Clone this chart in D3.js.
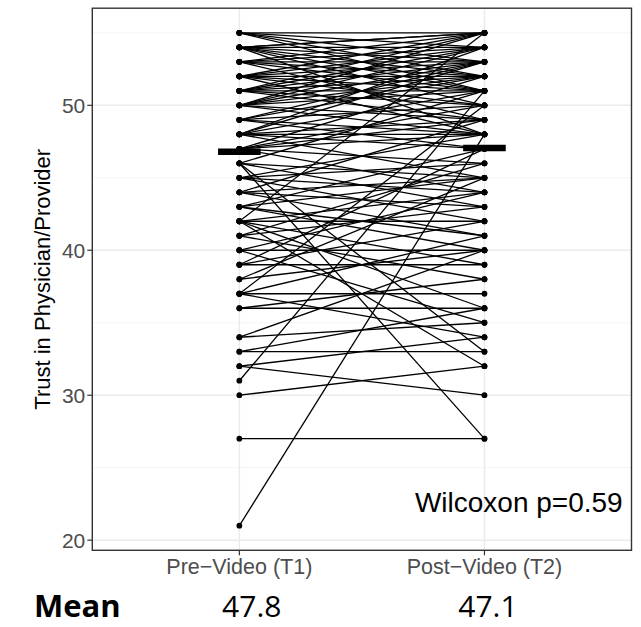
<!DOCTYPE html>
<html><head><meta charset="utf-8">
<script src="https://cdn.jsdelivr.net/npm/d3@7"></script>
<style>html,body{margin:0;padding:0;background:#fff;}svg{display:block;}</style>
</head><body>
<svg id="chart" width="641" height="627"></svg>
<script>
// ---- data ----
const categories = ["Pre\u2212Video (T1)", "Post\u2212Video (T2)"];
const preValues  = [55,55,55,54,54,54,54,54,54,53,53,53,53,52,52,52,52,52,51,51,51,51,51,50,50,50,50,49,49,49,48,48,48,48,48,47,47,47,47,46,46,46,46,46,45,45,45,45,44,44,44,44,43,43,43,43,42,42,42,42,42,42,41,41,41,40,40,40,39,39,39,38,38,37,37,37,37,36,36,34,34,33,33,32,32,31,30,27,21,
                    55,55,54,54,53,53,52,52,51,51,50,50,50,49,49,48,48,47,47];
const postValues = [55,54,52,55,54,53,51,50,55,55,52,54,49,55,53,51,50,48,54,53,51,52,49,55,51,48,52,53,50,47,54,49,47,48,45,50,52,46,44,51,45,43,27,33,48,46,44,42,49,45,41,43,47,45,40,41,55,44,42,39,36,32,46,43,38,44,40,35,47,42,39,45,40,50,41,37,34,38,36,40,35,33,36,34,30,51,32,27,48,
                    53,51,52,48,53,51,54,52,55,50,54,53,49,52,48,51,53,49,48];
const meanBarValues = [46.8, 47.05];
const meanLabels = ["47.8", "47.1"];
const yTicks = [20, 30, 40, 50];
const yMinorTicks = [25, 35, 45, 55];
const yDomain = [19.3, 56.7];
const statText = "Wilcoxon p=0.59";
const yTitle = "Trust in Physician/Provider";
const meanTitle = "Mean";

// ---- layout ----
const svg = d3.select("#chart");
const panel = {left: 92.3, right: 631.5, top: 8.2, bottom: 550.3};

const x = d3.scalePoint().domain(categories).range([panel.left, panel.right]).padding(0.6);
const y = d3.scaleLinear().domain(yDomain).range([panel.bottom, panel.top]);

const g = svg.append("g");

// grid
g.selectAll(".minor").data(yMinorTicks).enter().append("line")
  .attr("x1", panel.left).attr("x2", panel.right)
  .attr("y1", d => y(d)).attr("y2", d => y(d))
  .attr("stroke", "#F3F3F3").attr("stroke-width", 0.8);
g.selectAll(".major").data(yTicks).enter().append("line")
  .attr("x1", panel.left).attr("x2", panel.right)
  .attr("y1", d => y(d)).attr("y2", d => y(d))
  .attr("stroke", "#EBEBEB").attr("stroke-width", 1.5);
g.selectAll(".vmajor").data(categories).enter().append("line")
  .attr("x1", d => x(d)).attr("x2", d => x(d))
  .attr("y1", panel.top).attr("y2", panel.bottom)
  .attr("stroke", "#EBEBEB").attr("stroke-width", 1.5);

// paired lines
const pairs = preValues.map((p, i) => ({pre: p, post: postValues[i]}));
g.selectAll(".pair").data(pairs).enter().append("line")
  .attr("x1", x(categories[0])).attr("x2", x(categories[1]))
  .attr("y1", d => y(d.pre)).attr("y2", d => y(d.post))
  .attr("stroke", "#000").attr("stroke-width", 1.3);

// points
const pts = [];
pairs.forEach(d => { pts.push({c: categories[0], v: d.pre}); pts.push({c: categories[1], v: d.post}); });
g.selectAll(".pt").data(pts).enter().append("circle")
  .attr("cx", d => x(d.c)).attr("cy", d => y(d.v)).attr("r", 2.9).attr("fill", "#000");

// mean bars
const barHalf = 21.3;
g.selectAll(".mbar").data(meanBarValues).enter().append("line")
  .attr("x1", (d, i) => x(categories[i]) - barHalf)
  .attr("x2", (d, i) => x(categories[i]) + barHalf)
  .attr("y1", d => y(d)).attr("y2", d => y(d))
  .attr("stroke", "#000").attr("stroke-width", 6.4);

// panel border
svg.append("rect").attr("x", panel.left).attr("y", panel.top)
  .attr("width", panel.right - panel.left).attr("height", panel.bottom - panel.top)
  .attr("fill", "none").attr("stroke", "#333333").attr("stroke-width", 1.4);

// y axis ticks + labels
const yAxis = svg.append("g");
yAxis.selectAll("line").data(yTicks).enter().append("line")
  .attr("x1", panel.left - 5).attr("x2", panel.left)
  .attr("y1", d => y(d)).attr("y2", d => y(d))
  .attr("stroke", "#333333").attr("stroke-width", 1.2);
yAxis.selectAll("text").data(yTicks).enter().append("text")
  .attr("x", panel.left - 7).attr("y", d => y(d))
  .attr("dy", "0.36em").attr("text-anchor", "end")
  .attr("font-family", "Liberation Sans, Arial, sans-serif").attr("font-size", 21)
  .attr("fill", "#4D4D4D").text(d => d);

// x axis ticks + labels
const xAxis = svg.append("g");
xAxis.selectAll("line").data(categories).enter().append("line")
  .attr("x1", d => x(d)).attr("x2", d => x(d))
  .attr("y1", panel.bottom).attr("y2", panel.bottom + 5)
  .attr("stroke", "#333333").attr("stroke-width", 1.2);
xAxis.selectAll("text").data(categories).enter().append("text")
  .attr("x", d => x(d)).attr("y", 574)
  .attr("text-anchor", "middle")
  .attr("font-family", "Liberation Sans, Arial, sans-serif").attr("font-size", 21.5)
  .attr("fill", "#4D4D4D").text(d => d);

// y title
svg.append("text")
  .attr("transform", `translate(50, ${(panel.top + panel.bottom) / 2}) rotate(-90)`)
  .attr("text-anchor", "middle")
  .attr("font-family", "Liberation Sans, Arial, sans-serif").attr("font-size", 22)
  .attr("fill", "#000").text(yTitle);

// stat annotation
svg.append("text").attr("x", 622.7).attr("y", 512)
  .attr("text-anchor", "end")
  .attr("font-family", "Liberation Sans, Arial, sans-serif").attr("font-size", 28)
  .attr("fill", "#000").text(statText);

// Mean row
svg.append("text").attr("x", 34).attr("y", 617)
  .attr("font-family", "Open Sans, Noto Sans, sans-serif").attr("font-weight", "bold")
  .attr("font-size", 31).attr("fill", "#000").text(meanTitle);
svg.selectAll(".meanlab").data(meanLabels).enter().append("text")
  .attr("x", (d, i) => x(categories[i]) + (i === 0 ? 12.4 : 3.5)).attr("y", 617)
  .attr("text-anchor", "middle")
  .attr("font-family", "Open Sans, Noto Sans, sans-serif")
  .attr("font-size", 30).attr("fill", "#000").text(d => d);
</script>
</body></html>
